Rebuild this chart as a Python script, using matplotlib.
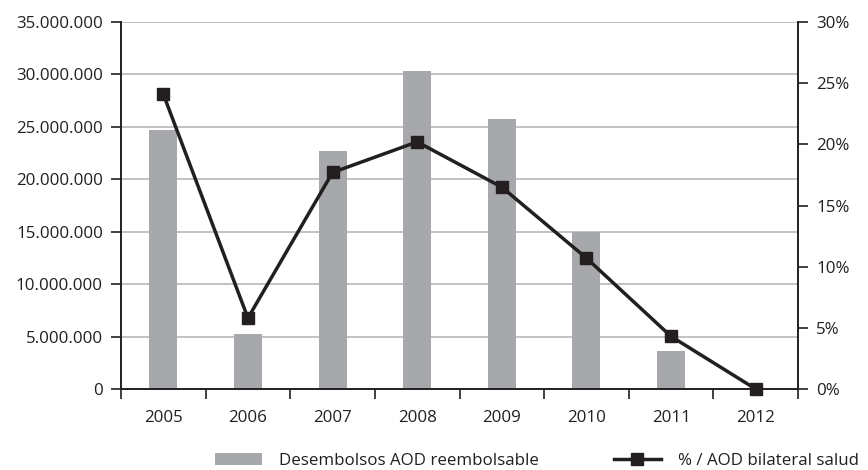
import matplotlib
matplotlib.use("Agg")
import matplotlib.pyplot as plt
from matplotlib.ticker import FuncFormatter, FixedLocator
from matplotlib.lines import Line2D
from matplotlib.patches import Patch
import numpy as np

plt.rcParams['font.family'] = ['Open Sans', 'DejaVu Sans']

years = ['2005', '2006', '2007', '2008', '2009', '2010', '2011', '2012']
desembolsos = [24700000, 5200000, 22700000, 30300000, 25750000, 15000000, 3600000, 0]
porcentaje = [24.1, 5.8, 17.7, 20.2, 16.5, 10.7, 4.3, 0.0]

bar_color = '#a7a8ab'
line_color = '#231f20'
grid_color = '#bdbdbd'
fs = 12.2

fig = plt.figure(figsize=(8.68, 4.70), dpi=100)
ax = fig.add_axes([121/868, 1-389/470, (798-121)/868, (389-22)/470])
x = np.arange(len(years))
ax.bar(x, desembolsos, width=0.33, color=bar_color, zorder=2)
ax.set_xlim(-0.5, len(years)-0.5)
ax.set_ylim(0, 35000000)
ax.set_yticks(np.arange(0, 35000001, 5000000))
ax.yaxis.set_major_formatter(FuncFormatter(lambda v, p: f"{int(v):,}".replace(',', '.')))
ax.grid(axis='y', color=grid_color, linewidth=1.3, zorder=0)
ax.set_axisbelow(True)
ax.set_xticks(x)
ax.set_xticklabels(years)
ax.xaxis.set_minor_locator(FixedLocator(np.arange(-0.5, len(years), 1)))
ax.tick_params(axis='x', which='major', length=0, pad=15, labelsize=fs, colors=line_color)
ax.tick_params(axis='x', which='minor', length=7, width=1.2, color=line_color)
ax.tick_params(axis='y', length=7, width=1.2, color=line_color, labelsize=fs, labelcolor=line_color, pad=6)
ax.spines['top'].set_visible(False)
for s in ['left', 'right', 'bottom']:
    ax.spines[s].set_color(line_color)
    ax.spines[s].set_linewidth(1.2)

ax2 = ax.twinx()
ax2.plot(x, porcentaje, color=line_color, linewidth=2.5, marker='s', markersize=9, zorder=3, clip_on=False)
ax2.set_ylim(0, 30)
ax2.set_yticks(np.arange(0, 31, 5))
ax2.yaxis.set_major_formatter(FuncFormatter(lambda v, p: f"{int(v)}%"))
ax2.tick_params(axis='y', length=7, width=1.2, color=line_color, labelsize=fs, labelcolor=line_color, pad=6)
ax2.spines['top'].set_visible(False)
for s in ['left', 'right', 'bottom']:
    ax2.spines[s].set_color(line_color)
    ax2.spines[s].set_linewidth(1.2)

handles = [Patch(facecolor=bar_color, edgecolor='none'),
           Line2D([0], [0], color=line_color, linewidth=2.5, marker='s', markersize=9)]
labels = ['Desembolsos AOD reembolsable', '% / AOD bilateral salud']
fig.legend(handles, labels, loc='center', bbox_to_anchor=(537/868, 1-461/470), ncol=2,
           frameon=False, fontsize=fs, columnspacing=4.4, handlelength=2.8,
           handletextpad=1.0, labelcolor=line_color)

fig.savefig('out.png', dpi=100)
